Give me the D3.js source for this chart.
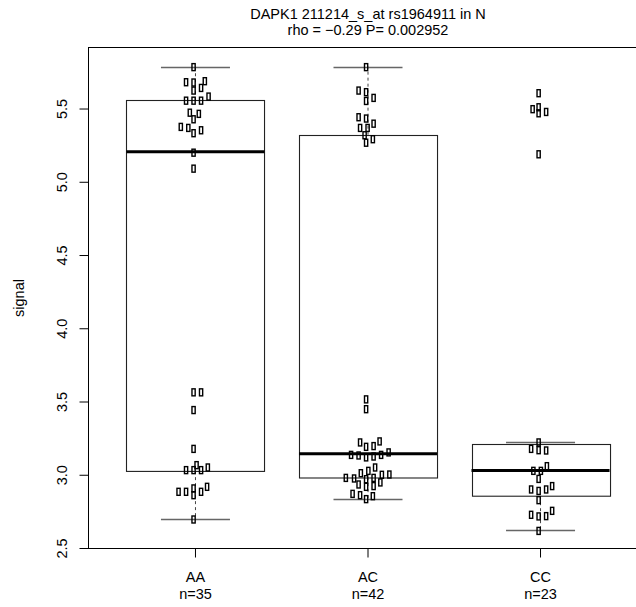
<!DOCTYPE html>
<html>
<head>
<meta charset="utf-8">
<script src="https://cdn.jsdelivr.net/npm/d3@7"></script>
<style>
  body { margin: 0; background: #fff; }
  text { font-family: "Liberation Sans", Arial, sans-serif; fill: #000; }
</style>
</head>
<body>
<div class="chart"></div>
<script>
// genotype groups
const groups = ['AA', 'AC', 'CC'];
const counts = [35, 42, 23];

// box stats
const whiskerLow = [2.70, 2.835, 2.627];
const q1 = [3.028, 2.987, 2.857];
const medians = [5.209, 3.146, 3.033];
const q3 = [5.560, 5.325, 3.210];
const whiskerHigh = [5.79, 5.79, 3.224];

// signal values per group, with jitter slot for each point
const aaValues = [5.786, 5.683, 5.681, 5.690, 5.644, 5.626, 5.557, 5.557, 5.557, 5.585,
  5.475, 5.467, 5.430, 5.378, 5.371, 5.355, 5.335, 5.202, 5.093,
  3.566, 3.566, 3.445, 3.180, 3.069, 3.035, 3.035, 3.035, 3.053,
  2.887, 2.887, 2.910, 2.864, 2.887, 2.921, 2.698];
const aaJitter = [0, -1, 0, 1.5, 1, 0, -1, 0, 1, 2,
  -0.5, 0.7, 0, -1.7, -0.7, 1, 0, 0, 0,
  0, 1, 0, 0, 0.4, -1, 0, 1, 1.9,
  -2, -1, 0, 0, 1, 1.8, 0];

const acValues = [5.786, 5.626, 5.615, 5.576, 5.555, 5.444, 5.435, 5.400, 5.371, 5.371,
  5.321, 5.294, 5.270,
  3.518, 3.451, 3.224, 3.194, 3.199, 3.231, 3.139, 3.135, 3.122, 3.128,
  3.139, 3.156, 3.014, 3.030, 3.053, 2.982, 2.978, 2.973, 2.982, 3.003,
  3.005, 2.937, 2.921, 2.926, 2.951, 2.873, 2.864, 2.837, 2.857];
const acJitter = [0, -1, 0, 1, 0, -1, 0, 1, -0.8, 0.2,
  -0.2, 0.9, 0,
  0, 0, -0.8, 0, 1, 1.8, -2, -1, 0, 1,
  2, 3, -0.7, 0.3, 1.2, -2.7, -1.6, 0, 1, 2.1,
  3.1, -1, 0, 1, 1.9, -1.8, -0.8, 0, 0.9];

const ccValues = [5.608, 5.499, 5.512, 5.471, 5.480, 5.191,
  3.224, 3.180, 3.171, 3.169, 3.030, 3.030, 3.062, 2.975,
  2.903, 2.893, 2.903, 2.926, 2.830, 2.730, 2.719, 2.721, 2.757, 2.620];
const ccJitter = [0, -0.8, 0, 0, 1, 0,
  0, -1, 0, 1, -0.7, 0.3, 1.1, 0,
  -1, 0, 1, 1.8, 0, -1, 0, 1, 1.8, 0];

const titleText = 'DAPK1 211214_s_at rs1964911 in N';
const subtitleText = 'rho = \u22120.29 P= 0.002952';
const yTicks = [2.5, 3.0, 3.5, 4.0, 4.5, 5.0, 5.5];

const w = 636;
const h = 607;
const margin = { top: 47.5, bottom: 548.5, left: 88.5, right: 647.5 };
const fontSize = '14.5px';

const xScale = d3.scaleLinear()
                 .domain([0.38, 3.62])
                 .range([margin.left, margin.right]);

const yScale = d3.scaleLinear()
                 .domain([2.5, 5.92])
                 .range([margin.bottom, margin.top]);

const boxHalf = 0.4;
const capHalf = 0.2;
const jitterUnit = 0.0435;

const svg = d3.select('.chart')
              .append('svg')
              .attr('width', w)
              .attr('height', h);

// plot frame (right side falls outside the crop)
svg.append('rect')
   .attr('x', margin.left)
   .attr('y', margin.top)
   .attr('width', margin.right - margin.left)
   .attr('height', margin.bottom - margin.top)
   .attr('fill', 'none')
   .attr('stroke', '#000')
   .attr('stroke-width', 1);

const boxes = svg.selectAll('g.box')
                 .data(groups)
                 .enter()
                 .append('g')
                 .attr('class', 'box');

// dashed whiskers
boxes.append('line')
     .attr('x1', (d, i) => xScale(i + 1))
     .attr('x2', (d, i) => xScale(i + 1))
     .attr('y1', (d, i) => yScale(q3[i]))
     .attr('y2', (d, i) => yScale(whiskerHigh[i]))
     .attr('stroke', '#444')
     .attr('stroke-dasharray', '3,3');

boxes.append('line')
     .attr('x1', (d, i) => xScale(i + 1))
     .attr('x2', (d, i) => xScale(i + 1))
     .attr('y1', (d, i) => yScale(q1[i]))
     .attr('y2', (d, i) => yScale(whiskerLow[i]))
     .attr('stroke', '#444')
     .attr('stroke-dasharray', '3,3');

// whisker caps
[whiskerHigh, whiskerLow].forEach(arr => {
  boxes.append('line')
       .attr('x1', (d, i) => xScale(i + 1 - capHalf))
       .attr('x2', (d, i) => xScale(i + 1 + capHalf))
       .attr('y1', (d, i) => Math.round(yScale(arr[i])) + 0.5)
       .attr('y2', (d, i) => Math.round(yScale(arr[i])) + 0.5)
       .attr('stroke', '#666')
       .attr('stroke-width', 1.3);
});

boxes.append('rect')
     .attr('x', (d, i) => Math.round(xScale(i + 1 - boxHalf)) + 0.5)
     .attr('y', (d, i) => Math.round(yScale(q3[i])) + 0.5)
     .attr('width', (d, i) => xScale(i + 1 + boxHalf) - xScale(i + 1 - boxHalf))
     .attr('height', (d, i) => yScale(q1[i]) - yScale(q3[i]))
     .attr('fill', 'none')
     .attr('stroke', '#222')
     .attr('stroke-width', 1.1);

boxes.append('line')
     .attr('x1', (d, i) => xScale(i + 1 - boxHalf))
     .attr('x2', (d, i) => xScale(i + 1 + boxHalf))
     .attr('y1', (d, i) => yScale(medians[i]))
     .attr('y2', (d, i) => yScale(medians[i]))
     .attr('stroke', '#000')
     .attr('stroke-width', 3);

// jittered points
const allValues = [aaValues, acValues, ccValues];
const allJitter = [aaJitter, acJitter, ccJitter];
const points = [];
allValues.forEach((vals, g) => {
  vals.forEach((v, k) => {
    points.push({ group: g + 1, value: v, jit: allJitter[g][k] });
  });
});

svg.selectAll('rect.pt')
   .data(points)
   .enter()
   .append('rect')
   .attr('class', 'pt')
   .attr('x', d => xScale(d.group + d.jit * jitterUnit) - 3.5)
   .attr('y', d => yScale(d.value) - 3.5)
   .attr('width', 3.2)
   .attr('height', 7)
   .attr('fill', 'none')
   .attr('stroke', '#000')
   .attr('stroke-width', 1.4);

// y axis
const yAxis = svg.append('g');
yAxis.selectAll('line')
     .data(yTicks)
     .enter()
     .append('line')
     .attr('x1', margin.left - 9)
     .attr('x2', margin.left)
     .attr('y1', d => yScale(d))
     .attr('y2', d => yScale(d))
     .attr('stroke', '#000');

yAxis.selectAll('text')
     .data(yTicks)
     .enter()
     .append('text')
     .attr('transform', d => `translate(67, ${yScale(d)}) rotate(-90)`)
     .style('text-anchor', 'middle')
     .style('font-size', fontSize)
     .text(d => d.toFixed(1));

svg.append('text')
   .attr('transform', `translate(24, ${(margin.top + margin.bottom) / 2}) rotate(-90)`)
   .style('text-anchor', 'middle')
   .style('font-size', fontSize)
   .text('signal');

// x axis
const xAxis = svg.append('g');
xAxis.selectAll('line')
     .data(groups)
     .enter()
     .append('line')
     .attr('x1', (d, i) => xScale(i + 1))
     .attr('x2', (d, i) => xScale(i + 1))
     .attr('y1', margin.bottom)
     .attr('y2', margin.bottom + 9)
     .attr('stroke', '#000');

xAxis.selectAll('text.grp')
     .data(groups)
     .enter()
     .append('text')
     .attr('class', 'grp')
     .attr('x', (d, i) => xScale(i + 1))
     .attr('y', 582)
     .style('text-anchor', 'middle')
     .style('font-size', fontSize)
     .text(d => d);

xAxis.selectAll('text.n')
     .data(counts)
     .enter()
     .append('text')
     .attr('class', 'n')
     .attr('x', (d, i) => xScale(i + 1))
     .attr('y', 599)
     .style('text-anchor', 'middle')
     .style('font-size', fontSize)
     .text(d => `n=${d}`);

// titles
const mid = (margin.left + margin.right) / 2;
svg.append('text')
   .attr('x', mid)
   .attr('y', 18.5)
   .style('text-anchor', 'middle')
   .style('font-size', fontSize)
   .text(titleText);

svg.append('text')
   .attr('x', mid)
   .attr('y', 34.5)
   .style('text-anchor', 'middle')
   .style('font-size', fontSize)
   .text(subtitleText);
</script>
</body>
</html>
